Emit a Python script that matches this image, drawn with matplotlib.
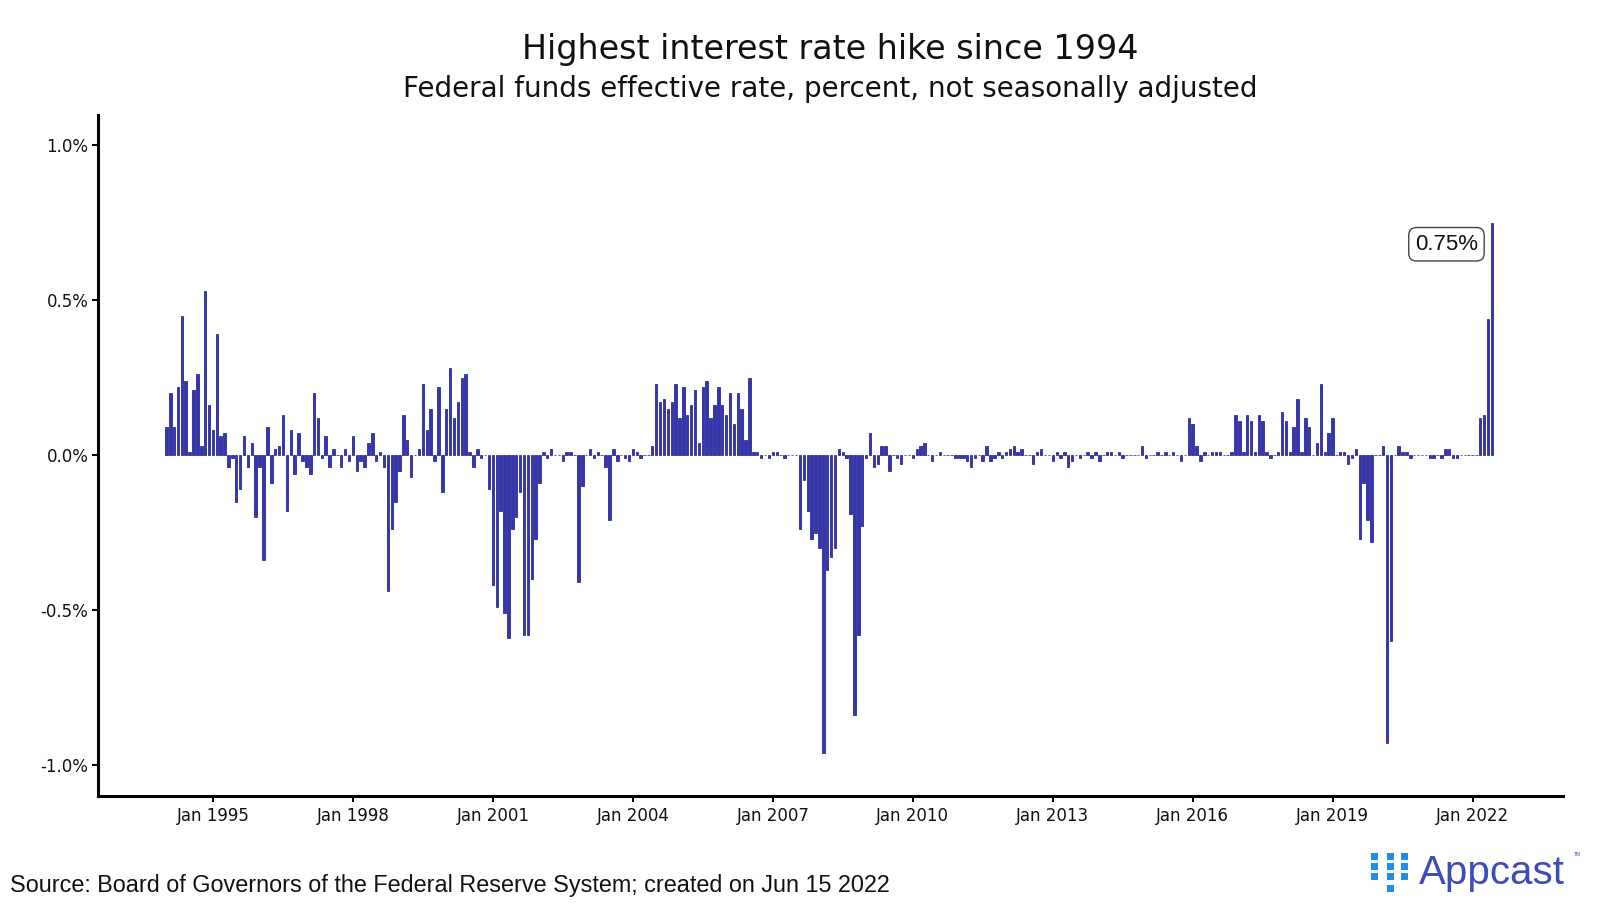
import numpy as np
import pandas as pd
import matplotlib
matplotlib.use("Agg")
import matplotlib.pyplot as plt
import matplotlib.dates as mdates
from matplotlib.patches import Rectangle

# monthly change of the federal funds effective rate, percentage points
chg_1994 = [0.09, 0.20, 0.09, 0.22, 0.45, 0.24, 0.01, 0.21, 0.26, 0.03, 0.53, 0.16]
chg_1995 = [0.08, 0.39, 0.06, 0.07, -0.04, -0.01, -0.15, -0.11, 0.06, -0.04, 0.04, -0.20]
chg_1996 = [-0.04, -0.34, 0.09, -0.09, 0.02, 0.03, 0.13, -0.18, 0.08, -0.06, 0.07, -0.02]
chg_1997 = [-0.04, -0.06, 0.20, 0.12, -0.01, 0.06, -0.04, 0.02, 0.00, -0.04, 0.02, -0.02]
chg_1998 = [0.06, -0.05, -0.02, -0.04, 0.04, 0.07, -0.02, 0.01, -0.04, -0.44, -0.24, -0.15]
chg_1999 = [-0.05, 0.13, 0.05, -0.07, 0.00, 0.02, 0.23, 0.08, 0.15, -0.02, 0.22, -0.12]
chg_2000 = [0.15, 0.28, 0.12, 0.17, 0.25, 0.26, 0.01, -0.04, 0.02, -0.01, 0.00, -0.11]
chg_2001 = [-0.42, -0.49, -0.18, -0.51, -0.59, -0.24, -0.20, -0.12, -0.58, -0.58, -0.40, -0.27]
chg_2002 = [-0.09, 0.01, -0.01, 0.02, 0.00, 0.00, -0.02, 0.01, 0.01, 0.00, -0.41, -0.10]
chg_2003 = [0.00, 0.02, -0.01, 0.01, 0.00, -0.04, -0.21, 0.02, -0.02, 0.00, -0.01, -0.02]
chg_2004 = [0.02, 0.01, -0.01, 0.00, 0.00, 0.03, 0.23, 0.17, 0.18, 0.15, 0.17, 0.23]
chg_2005 = [0.12, 0.22, 0.13, 0.16, 0.21, 0.04, 0.22, 0.24, 0.12, 0.16, 0.22, 0.16]
chg_2006 = [0.13, 0.20, 0.10, 0.20, 0.15, 0.05, 0.25, 0.01, 0.01, -0.01, 0.00, -0.01]
chg_2007 = [0.01, 0.01, 0.00, -0.01, 0.00, 0.00, 0.00, -0.24, -0.08, -0.18, -0.27, -0.25]
chg_2008 = [-0.30, -0.96, -0.37, -0.33, -0.30, 0.02, 0.01, -0.01, -0.19, -0.84, -0.58, -0.23]
chg_2009 = [-0.01, 0.07, -0.04, -0.03, 0.03, 0.03, -0.05, 0.00, -0.01, -0.03, 0.00, 0.00]
chg_2010 = [-0.01, 0.02, 0.03, 0.04, 0.00, -0.02, 0.00, 0.01, 0.00, 0.00, 0.00, -0.01]
chg_2011 = [-0.01, -0.01, -0.02, -0.04, -0.01, 0.00, -0.02, 0.03, -0.02, -0.01, 0.01, -0.01]
chg_2012 = [0.01, 0.02, 0.03, 0.01, 0.02, 0.00, 0.00, -0.03, 0.01, 0.02, 0.00, 0.00]
chg_2013 = [-0.02, 0.01, -0.01, 0.01, -0.04, -0.02, 0.00, -0.01, 0.00, 0.01, -0.01, 0.01]
chg_2014 = [-0.02, 0.00, 0.01, 0.01, 0.00, 0.01, -0.01, 0.00, 0.00, 0.00, 0.00, 0.03]
chg_2015 = [-0.01, 0.00, 0.00, 0.01, 0.00, 0.01, 0.00, 0.01, 0.00, -0.02, 0.00, 0.12]
chg_2016 = [0.10, 0.03, -0.02, 0.01, 0.00, 0.01, 0.01, 0.01, 0.00, 0.00, 0.01, 0.13]
chg_2017 = [0.11, 0.01, 0.13, 0.11, 0.01, 0.13, 0.11, 0.01, -0.01, 0.00, 0.01, 0.14]
chg_2018 = [0.11, 0.01, 0.09, 0.18, 0.01, 0.12, 0.09, 0.00, 0.04, 0.23, 0.01, 0.07]
chg_2019 = [0.12, 0.00, 0.01, 0.01, -0.03, -0.01, 0.02, -0.27, -0.09, -0.21, -0.28, 0.00]
chg_2020 = [0.00, 0.03, -0.93, -0.60, 0.00, 0.03, 0.01, 0.01, -0.01, 0.00, 0.00, 0.00]
chg_2021 = [0.00, -0.01, -0.01, 0.00, -0.01, 0.02, 0.02, -0.01, -0.01, 0.00, 0.00, 0.00]
chg_2022 = [0.00, 0.00, 0.12, 0.13, 0.44, 0.75]

yearly = [chg_1994, chg_1995, chg_1996, chg_1997, chg_1998, chg_1999, chg_2000,
          chg_2001, chg_2002, chg_2003, chg_2004, chg_2005, chg_2006, chg_2007,
          chg_2008, chg_2009, chg_2010, chg_2011, chg_2012, chg_2013, chg_2014,
          chg_2015, chg_2016, chg_2017, chg_2018, chg_2019, chg_2020, chg_2021,
          chg_2022]
values = np.concatenate(yearly)
months = pd.date_range("1994-01-01", periods=len(values), freq="MS")

tick_years = [1995, 1998, 2001, 2004, 2007, 2010, 2013, 2016, 2019, 2022]
y_ticks = [-1.0, -0.5, 0.0, 0.5, 1.0]

title = "Highest interest rate hike since 1994"
subtitle = "Federal funds effective rate, percent, not seasonally adjusted"
source = "Source: Board of Governors of the Federal Reserve System; created on Jun 15 2022"
peak_label = "0.75%"

# ---- figure ----
fig = plt.figure(figsize=(16, 9.09), dpi=100)
ax = fig.add_axes([0.06125, 0.1243, 0.9156, 0.7492])

ax.bar(months, values, width=19, color="#3535b0", edgecolor="#16168a",
       linewidth=0.5, zorder=2)

month_days = 30.44
x0 = mdates.date2num(months[0])
ax.set_xlim(x0 - 17.6 * month_days, x0 + 359.2 * month_days)
ax.set_ylim(-1.1, 1.097)

ax.set_xticks([mdates.date2num(pd.Timestamp(f"{y}-01-01")) for y in tick_years])
ax.set_xticklabels([f"Jan {y}" for y in tick_years])
ax.set_yticks(y_ticks)
ax.set_yticklabels([f"{v:.1f}%" for v in y_ticks])

for side in ["top", "right"]:
    ax.spines[side].set_visible(False)
for side in ["left", "bottom"]:
    ax.spines[side].set_linewidth(2.2)
    ax.spines[side].set_color("black")
ax.tick_params(axis="both", length=4, width=1.5, color="black",
               labelsize=12, labelcolor="#111111")
ax.tick_params(axis="x", pad=4)
ax.tick_params(axis="y", pad=3)

# label for the latest hike
ax.text(mdates.date2num(pd.Timestamp("2021-06-10")), 0.68, peak_label,
        ha="center", va="center", fontsize=16, family="Liberation Sans",
        color="#111111",
        bbox=dict(boxstyle="round,pad=0.28,rounding_size=0.35",
                  facecolor="white", edgecolor="#444444", linewidth=1.0))

# titles
fig.text(0.519, 0.935, title, ha="center", va="baseline", fontsize=24,
         color="#111111")
fig.text(0.519, 0.8935, subtitle, ha="center", va="baseline", fontsize=20,
         color="#111111")

# source caption
fig.text(0.0063, 0.0187, source, ha="left", va="baseline", fontsize=16.8,
         family="Liberation Sans", color="#111111")

# Appcast logo
sq = 7
cols = [1371, 1387, 1401]
rows = [853, 863, 873, 885]
logo_cells = [(0, 0), (0, 1), (0, 2), (1, 0), (1, 1), (1, 2), (1, 3),
              (2, 0), (2, 1), (2, 2)]
for c, r in logo_cells:
    fig.patches.append(Rectangle((cols[c] / 1600, 1 - (rows[r] + sq) / 909),
                                 sq / 1600, sq / 909, transform=fig.transFigure,
                                 facecolor="#1f8fe6", edgecolor="none"))
fig.text(1419 / 1600, 1 - 884 / 909, "Appcast", ha="left", va="baseline",
         fontsize=29, family="Liberation Sans", color="#3e4cb8")
fig.text(1574 / 1600, 1 - 856 / 909, "TM", ha="left", va="baseline",
         fontsize=3.5, family="Liberation Sans", color="#3e4cb8")

fig.savefig("out.png", dpi=100, facecolor="white")
